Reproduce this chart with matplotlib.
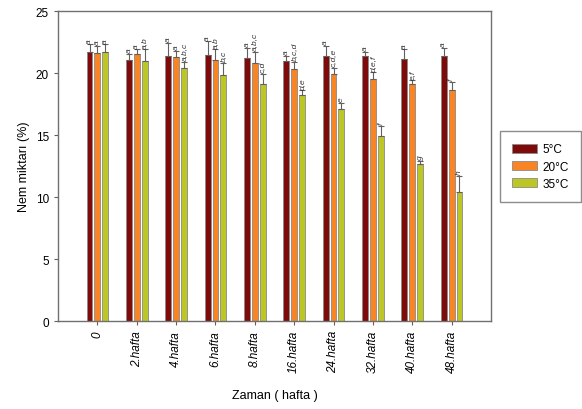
import numpy as np
import matplotlib.pyplot as plt

plt.rcParams['font.family'] = ['Liberation Sans', 'DejaVu Sans']

# --- veriler ---
haftalar = ['0', '2.hafta', '4.hafta', '6.hafta', '8.hafta', '16.hafta',
            '24.hafta', '32.hafta', '40.hafta', '48.hafta']

nem_5 = [21.7, 21.05, 21.4, 21.45, 21.2, 21.0, 21.4, 21.35, 21.1, 21.4]
nem_20 = [21.6, 21.5, 21.3, 21.05, 20.8, 20.3, 19.9, 19.5, 19.1, 18.6]
nem_35 = [21.7, 21.0, 20.4, 19.8, 19.1, 18.2, 17.1, 14.95, 12.65, 10.4]

hata_5 = [0.6, 0.5, 1.0, 1.1, 0.8, 0.4, 0.8, 0.35, 0.8, 0.65]
hata_20 = [0.6, 0.4, 0.45, 0.85, 0.9, 0.6, 0.5, 0.55, 0.3, 0.65]
hata_35 = [0.6, 0.9, 0.5, 1.0, 0.8, 0.4, 0.5, 0.8, 0.25, 1.3]

harf_5 = ['a'] * 10
harf_20 = ['a', 'a', 'a', 'a,b', 'a,b,c', 'b,c,d', 'c,d,e', 'd,e,f', 'e,f', 'f']
harf_35 = ['a', 'a,b', 'a,b,c', 'b,c', 'c,d', 'd,e', 'e', 'f', 'g', 'h']

seriler = [
    ('5°C', nem_5, hata_5, harf_5, '#7f0a0a'),
    ('20°C', nem_20, hata_20, harf_20, '#f98424'),
    ('35°C', nem_35, hata_35, harf_35, '#bcc624'),
]

fig = plt.figure(figsize=(5.82, 4.10), dpi=100)
ax = fig.add_axes([0.0997, 0.2146, 0.7439, 0.7561])

x = np.arange(len(haftalar))
genislik = 0.15
aralik = 0.2

for i, (ad, deger, hata, harf, renk) in enumerate(seriler):
    xs = x + (i - 1) * aralik
    ax.bar(xs, deger, width=genislik, color=renk, edgecolor='#8a8a8a',
           linewidth=0.6, label=ad, zorder=2)
    ax.errorbar(xs, deger, yerr=[np.zeros(len(hata)), hata], fmt='none',
                ecolor='#606060', elinewidth=0.8, capsize=2.5, capthick=0.8,
                zorder=3)
    for xi, yi, ei, h in zip(xs, deger, hata, harf):
        ax.text(xi, yi + ei + 0.15, h, rotation=90, ha='center', va='bottom',
                fontsize=6, style='italic', color='#333333')

ax.set_xlim(-1, 10)
ax.set_ylim(0, 25)
ax.set_yticks([0, 5, 10, 15, 20, 25])
ax.set_xticks(x)
ax.set_xticklabels(haftalar, rotation=90, style='italic', fontsize=8.5)
ax.tick_params(axis='y', labelsize=8.5, length=3, color='#606060')
ax.tick_params(axis='x', length=3, color='#606060')

for kenar in ax.spines.values():
    kenar.set_color('#707070')
    kenar.set_linewidth(1.0)

ax.set_ylabel('Nem miktarı (%)', fontsize=9)
ax.set_xlabel('Zaman ( hafta )', fontsize=9, labelpad=12)

ax.legend(loc='upper left', bbox_to_anchor=(0.859, 0.677),
          bbox_transform=fig.transFigure, fontsize=8.5, frameon=True,
          fancybox=False, edgecolor='#707070', handlelength=2.1,
          handleheight=0.8, handletextpad=0.5, borderpad=1.0,
          labelspacing=0.45, borderaxespad=0)

fig.savefig('out.png', dpi=100)
